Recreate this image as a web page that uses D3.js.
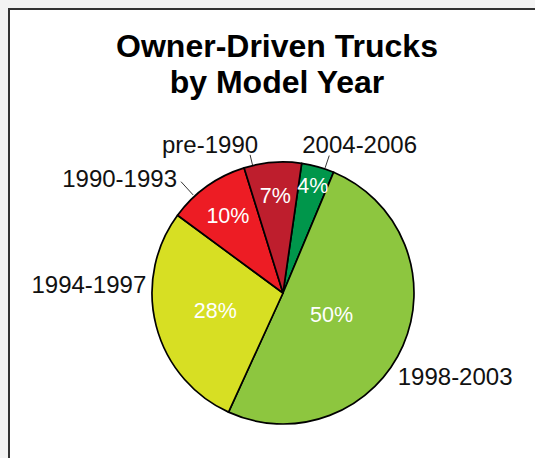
<!DOCTYPE html>
<html>
<head>
<meta charset="utf-8">
<script src="https://cdn.jsdelivr.net/npm/d3@7"></script>
<style>
  body { margin: 0; background: #f3f3f3; }
  svg { display: block; }
</style>
</head>
<body>
<script>
// data ---------------------------------------------------------------
var categories = ["2004-2006", "1998-2003", "1994-1997", "1990-1993", "pre-1990"];
var shares = [4, 50, 28, 10, 7];
var sliceColors = ["#00964b", "#8dc63f", "#d7df23", "#ed1c24", "#be1e2d"];
var titleLines = ["Owner-Driven Trucks", "by Model Year"];

// layout -------------------------------------------------------------
var width = 535, height = 458;
var cx = 283, cy = 293, radius = 131;
var deg = Math.PI / 180;
var font = "'Liberation Sans', Arial, Helvetica, sans-serif";

var svg = d3.select("body").append("svg")
    .attr("width", width)
    .attr("height", height);

// white page with dark frame edge
svg.append("rect")
    .attr("x", 9).attr("y", 9)
    .attr("width", width).attr("height", height)
    .attr("fill", "#fff")
    .attr("stroke", "#333")
    .attr("stroke-width", 2);

// title
svg.append("text")
    .attr("x", 277)
    .attr("y", 57)
    .attr("text-anchor", "middle")
    .style("font-family", font)
    .style("font-weight", "bold")
    .style("font-size", "32px")
  .selectAll("tspan")
    .data(titleLines)
    .enter().append("tspan")
      .attr("x", 277)
      .attr("dy", function(d, i) { return i === 0 ? 0 : 36; })
      .text(function(d) { return d; });

// pie
var data = categories.map(function(c, i) {
  return {label: c, value: shares[i], color: sliceColors[i]};
});

var pie = d3.pie()
    .sort(null)
    .value(function(d) { return d.value; })
    .startAngle(8.2 * deg)
    .endAngle(368.2 * deg);

var arcs = pie(data);
var arc = d3.arc().innerRadius(0).outerRadius(radius);

var g = svg.append("g")
    .attr("transform", "translate(" + cx + "," + cy + ")");

g.selectAll("path.slice")
    .data(arcs)
    .enter().append("path")
      .attr("class", "slice")
      .attr("d", arc)
      .attr("fill", function(d) { return d.data.color; })
      .attr("stroke", "#000")
      .attr("stroke-width", 1.7)
      .attr("stroke-linejoin", "round");

// percent labels inside the slices (radius tweaked per slice by eye)
var pctRadius = {"2004-2006": 112, "1998-2003": 53, "1994-1997": 70, "1990-1993": 95, "pre-1990": 98};

g.selectAll("text.pct")
    .data(arcs)
    .enter().append("text")
      .attr("class", "pct")
      .attr("transform", function(d) {
        var p = d3.pointRadial((d.startAngle + d.endAngle) / 2, pctRadius[d.data.label]);
        return "translate(" + p + ")";
      })
      .attr("text-anchor", "middle")
      .attr("dy", "0.36em")
      .attr("fill", "#fff")
      .style("font-family", font)
      .style("font-size", "21.5px")
      .text(function(d) { return d.data.value + "%"; });

// category labels outside the pie
//   a: angle (deg), r: label radius, lead: leader start radius (optional)
var outer = {
  "pre-1990":  {a: -13.4, r: 142, lead: 131, anchor: "end",   dx: 8,   dy: -2},
  "2004-2006": {a: 18.6,  r: 145, lead: 132, anchor: "start", dx: -27, dy: -3},
  "1990-1993": {a: -42.5, r: 151, lead: 133, anchor: "end",   dx: -4,  dy: 5},
  "1994-1997": {a: 273.3, r: 138, anchor: "end",   dx: 1, dy: 8},
  "1998-2003": {a: 126.1, r: 142, anchor: "start", dx: 0, dy: 8}
};

arcs.forEach(function(d) {
  var o = outer[d.data.label];
  var end = d3.pointRadial(o.a * deg, o.r);

  if (o.lead) {
    var start = d3.pointRadial(o.a * deg, o.lead);
    g.append("line")
        .attr("x1", start[0]).attr("y1", start[1])
        .attr("x2", end[0]).attr("y2", end[1])
        .attr("stroke", "#000")
        .attr("stroke-width", 0.8);
  }

  g.append("text")
      .attr("x", end[0] + o.dx)
      .attr("y", end[1] + o.dy)
      .attr("text-anchor", o.anchor)
      .attr("fill", "#111")
      .style("font-family", font)
      .style("font-size", "24px")
      .text(d.data.label);
});
</script>
</body>
</html>
